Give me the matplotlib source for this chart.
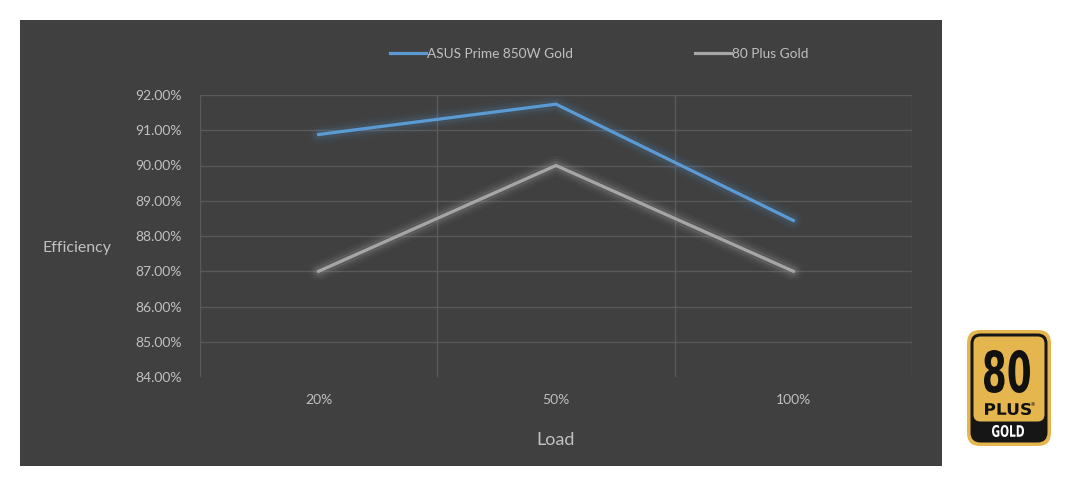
import numpy as np
import matplotlib
matplotlib.use("Agg")
import matplotlib.pyplot as plt
from matplotlib.patches import FancyBboxPatch, Rectangle, PathPatch
from matplotlib.textpath import TextPath
from matplotlib.font_manager import FontProperties
from matplotlib.transforms import Affine2D
from matplotlib.ticker import FuncFormatter, FixedLocator

loads = ["20%", "50%", "100%"]
asus = [90.88, 91.74, 88.44]
plus_gold = [87.0, 90.0, 87.0]
series_names = ["ASUS Prime 850W Gold", "80 Plus Gold"]

panel = "#404040"
grid = "#595959"
txt = "#c0c0c0"
blue = "#5b9bd5"
grey = "#a6a6a6"
gold = "#e6b64e"

plt.rcParams['font.family'] = ['Lato', 'DejaVu Sans']

fig = plt.figure(figsize=(10.92, 5.03), dpi=100, facecolor="white")

# background layer in pixel coordinates
bg = fig.add_axes([0, 0, 1, 1], zorder=0)
bg.set_xlim(0, 1092)
bg.set_ylim(503, 0)
bg.axis("off")
bg.add_patch(Rectangle((20, 20), 922, 446, facecolor=panel, edgecolor="none"))

ax = fig.add_axes([200/1092, (503-377)/503, 712/1092, 282/503], zorder=1)
ax.set_facecolor("none")
x = np.arange(len(loads))

for y, c, glow in [(plus_gold, grey, "#d8d8d8"), (asus, blue, blue)]:
    for lw, a in [(14, 0.035), (10, 0.06), (6.5, 0.1)]:
        ax.plot(x, y, color=glow, lw=lw, alpha=a, solid_capstyle="round", solid_joinstyle="round")
ax.plot(x, asus, color=blue, lw=2.3, label=series_names[0], solid_joinstyle="miter")
ax.plot(x, plus_gold, color=grey, lw=2.3, label=series_names[1], solid_joinstyle="miter")

ax.set_xlim(-0.5, 2.5)
ax.set_ylim(84, 92)
ax.set_xticks(x)
ax.set_xticklabels(loads)
ax.xaxis.set_minor_locator(FixedLocator([-0.5, 0.5, 1.5, 2.5]))
ax.set_yticks(np.arange(84, 92.5, 1))
ax.yaxis.set_major_formatter(FuncFormatter(lambda v, p: f"{v:.2f}%"))
for v in np.arange(85, 92.5, 1):
    ax.axhline(v, color=grid, lw=1, zorder=0)
ax.grid(which="minor", axis="x", color=grid, lw=1, zorder=0)
for s in ax.spines.values():
    s.set_visible(False)
ax.tick_params(which="both", length=0)
ax.tick_params(axis="y", pad=13, labelsize=10, labelcolor=txt)
ax.tick_params(axis="x", pad=12, labelsize=10, labelcolor=txt)

ax.set_ylabel("Efficiency", rotation=0, color=txt, fontsize=11.5)
ax.yaxis.set_label_coords(-0.173, 0.433)
ax.set_xlabel("Load", color=txt, fontsize=13)
ax.xaxis.set_label_coords(0.5, -0.195)

leg = ax.legend(loc="center", bbox_to_anchor=(0.561, 1.145), ncol=2, frameon=False,
                fontsize=9.8, handlelength=2.6, handletextpad=0.1, columnspacing=9.0,
                labelcolor=txt)

# 80 PLUS Gold badge
bg.add_patch(FancyBboxPatch((967, 330), 84, 116, boxstyle="round,pad=0,rounding_size=13",
                            facecolor=gold, edgecolor="none"))
bg.add_patch(FancyBboxPatch((970.5, 333.5), 77, 109, boxstyle="round,pad=0,rounding_size=10",
                            facecolor="#161616", edgecolor="none"))
bg.add_patch(FancyBboxPatch((973.5, 336.5), 71, 85, boxstyle="round,pad=0,rounding_size=7",
                            facecolor=gold, edgecolor="none"))


def fit_text(s, x0, y0, x1, y1, color, weight="bold"):
    tp = TextPath((0, 0), s, size=10, prop=FontProperties(family="DejaVu Sans", weight=weight))
    ext = tp.get_extents()
    sx = (x1 - x0) / ext.width
    sy = (y1 - y0) / ext.height
    tr = Affine2D().translate(-ext.x0, -ext.y0).scale(sx, -sy).translate(x0, y1)
    bg.add_patch(PathPatch(tr.transform_path(tp), facecolor=color, edgecolor="none"))


fit_text("80", 984, 350, 1030, 393, "#111111")
fit_text("PLUS", 985, 403, 1031, 415, "#111111")
fit_text("®", 1031, 402, 1035, 406, "#111111", weight="normal")
fit_text("GOLD", 992, 425, 1024, 437, "white")

fig.savefig("out.png", dpi=100, facecolor="white")
